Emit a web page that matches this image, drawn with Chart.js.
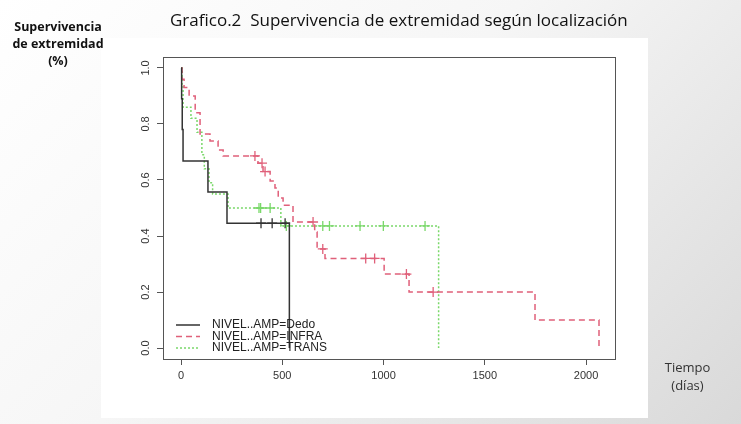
<!DOCTYPE html>
<html><head><meta charset="utf-8">
<script src="https://cdn.jsdelivr.net/npm/chart.js@4"></script>
<style>
body{margin:0;width:741px;height:424px;overflow:hidden;background:linear-gradient(135deg,#ffffff 0%,#f6f6f6 45%,#d9d9d9 100%);font-family:"Open Sans",sans-serif;position:relative}
#img{position:absolute;left:101px;top:38px;width:547px;height:380px;background:#fff}
#c{position:absolute;left:0;top:0}
.t{position:absolute;color:#111}
</style></head><body>
<div id="img"></div>
<canvas id="c" width="741" height="424"></canvas>
<div class="t" style="left:170px;top:8px;font-size:17px">Grafico.2&nbsp; Supervivencia de extremidad según localización</div>
<div class="t" style="left:8px;top:18px;width:100px;text-align:center;font-weight:bold;font-size:12.5px;line-height:17px">Supervivencia<br>de extremidad<br>(%)</div>
<div class="t" style="left:650px;top:358px;width:75px;text-align:center;font-size:13px;line-height:18px;color:#333">Tiempo<br>(días)</div>
<script>
const xTicks=[0,500,1000,1500,2000];
const yTicks=[0,0.2,0.4,0.6,0.8,1.0];
const seriesNames=["NIVEL..AMP=Dedo","NIVEL..AMP=INFRA","NIVEL..AMP=TRANS"];
const dedoT=[0,3,6,10,133,227,535];
const dedoS=[1,0.89,0.78,0.668,0.557,0.446,0];
const dedoCensT=[395,450,514];
const dedoCensS=[0.446,0.446,0.446];
const infraT=[0,5,15,40,70,94,143,183,208,380,405,440,464,480,504,553,660,672,711,1003,1126,1748,2064];
const infraS=[1,0.96,0.93,0.9,0.84,0.764,0.739,0.707,0.686,0.66,0.63,0.596,0.571,0.536,0.51,0.45,0.414,0.354,0.32,0.264,0.2,0.1,0];
const infraCensT=[365,400,415,652,700,912,956,1113,1245];
const infraCensS=[0.686,0.66,0.63,0.45,0.354,0.32,0.32,0.264,0.2];
const transT=[0,5,10,49,79,103,115,138,156,232,493,1272];
const transS=[1,0.94,0.86,0.82,0.77,0.69,0.64,0.59,0.55,0.5,0.436,0];
const transCensT=[385,393,440,520,700,733,884,999,1205];
const transCensS=[0.5,0.5,0.5,0.436,0.436,0.436,0.436,0.436,0.436];

const cols=["#333333","#e0607a","#7ad86a"];
const dashes=[[],[6,4],[2,2]];
const pts=(t,s)=>t.map((v,i)=>({x:v,y:s[i]}));
const line=(t,s,i)=>({type:'line',data:pts(t,s),stepped:'before',borderColor:cols[i],borderWidth:1.5,borderDash:dashes[i],pointRadius:0,fill:false});
const cens=(t,s,i)=>({type:'scatter',data:pts(t,s),pointStyle:'cross',pointRadius:5,borderColor:cols[i],borderWidth:1.3,showLine:false});

const deco={id:'deco',afterDraw(ch){
  const c=ch.ctx,a=ch.chartArea,y=ch.scales.y;
  c.save();c.strokeStyle='#555';c.lineWidth=1;c.strokeRect(a.left+0.5,a.top+0.5,a.right-a.left,a.bottom-a.top);
  c.fillStyle='#333';c.font='11px "Liberation Sans",Arial';c.textAlign='center';c.textBaseline='bottom';
  yTicks.forEach(v=>{c.save();c.translate(a.left-12,y.getPixelForValue(v));c.rotate(-Math.PI/2);c.fillText(v.toFixed(1),0,0);c.restore();});
  const lx=176,ly=325;c.font='12px "Liberation Sans",Arial';c.textAlign='left';c.textBaseline='middle';
  seriesNames.forEach((n,i)=>{const yy=ly+i*11.5;c.strokeStyle=cols[i];c.lineWidth=1.5;c.setLineDash(dashes[i]);c.beginPath();c.moveTo(lx,yy);c.lineTo(lx+24,yy);c.stroke();c.setLineDash([]);c.fillStyle='#222';c.fillText(n,lx+36,yy);});
  c.restore();}};

new Chart(document.getElementById('c'),{
 data:{datasets:[line(dedoT,dedoS,0),line(infraT,infraS,1),line(transT,transS,2),cens(dedoCensT,dedoCensS,0),cens(infraCensT,infraCensS,1),cens(transCensT,transCensS,2)]},
 options:{responsive:false,animation:false,layout:{padding:{left:0,top:57,right:126,bottom:0}},
  plugins:{legend:{display:false},tooltip:{enabled:false}},
  scales:{
   x:{type:'linear',min:-89,max:2143,afterBuildTicks:s=>{s.ticks=xTicks.map(v=>({value:v}));},afterFit:s=>{s.height=65;},
      grid:{drawOnChartArea:false,tickLength:6,color:'#555'},border:{color:'#555'},
      ticks:{color:'#333',font:{size:11,family:'"Liberation Sans",Arial'},padding:4,maxRotation:0,callback:v=>String(v)}},
   y:{type:'linear',min:-0.039,max:1.039,afterBuildTicks:s=>{s.ticks=yTicks.map(v=>({value:v}));},afterFit:s=>{s.width=163;},
      grid:{drawOnChartArea:false,tickLength:6,color:'#555'},border:{color:'#555'},ticks:{display:false}}
  }},
 plugins:[deco]});
</script></body></html>
